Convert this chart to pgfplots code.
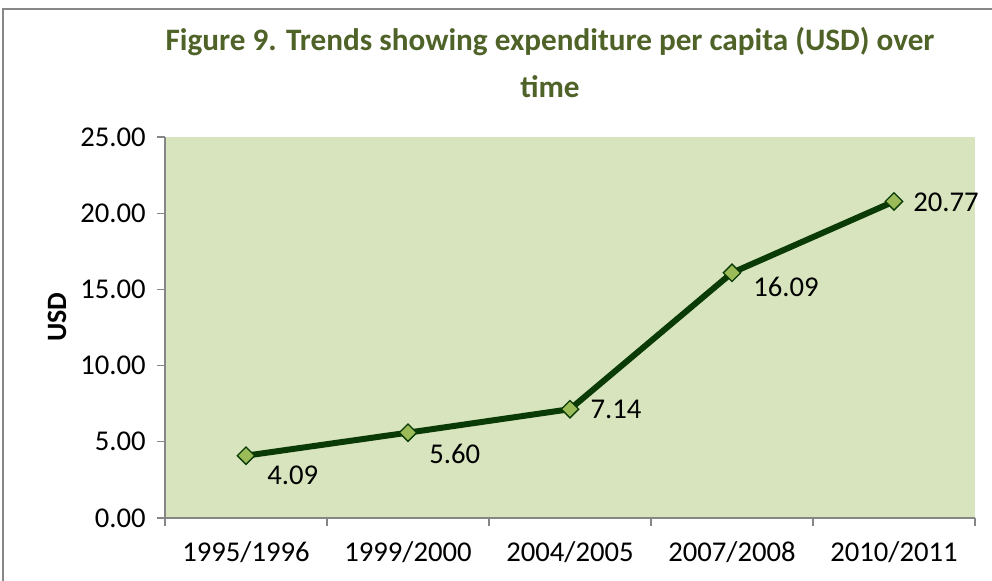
\documentclass[border=0pt]{standalone}
\usepackage{fontspec}
\setmainfont{Carlito}
\usepackage{pgfplots}
\pgfplotsset{compat=1.18}
\usepackage{pgfplotstable}
\definecolor{bgc}{HTML}{D7E4BD}
\definecolor{linec}{HTML}{0A3A06}
\definecolor{markc}{HTML}{9BBB59}
\definecolor{titlec}{HTML}{4F6228}
\definecolor{axisc}{HTML}{868686}
\definecolor{borderc}{HTML}{878787}
\pgfplotstableread{
x y dx dy
0 4.09 35 -14.5
1 5.60 35 -16
2 7.14 34.5 0
3 16.09 40.5 -10.5
4 20.77 39 -0.5
}\datatable
\begin{document}
\begin{tikzpicture}
\useasboundingbox (0,0) rectangle (744pt,435.75pt);
\draw[borderc, line width=1.2pt] (2.25pt,-5pt) -- (2.25pt,429pt) -- (760pt,429pt);
\node[font=\fontsize{23.4}{28}\selectfont\bfseries, text=titlec] at (412.5pt,404.25pt) {Figure 9. Trends showing expenditure per capita (USD) over};
\node[font=\fontsize{23.4}{28}\selectfont\bfseries, text=titlec] at (412.5pt,370.5pt) {time};
\node[font=\fontsize{21}{24}\selectfont\bfseries, rotate=90] at (42.75pt,198pt) {USD};
\begin{axis}[
  at={(123.75pt,47.25pt)}, anchor=south west,
  scale only axis, width=607.5pt, height=285.75pt,
  xmin=-0.5, xmax=4.5, ymin=0, ymax=25,
  axis background/.style={fill=bgc},
  axis x line*=bottom, axis y line*=left,
  axis line style={axisc, line width=1.2pt},
  every tick/.style={axisc, line width=1pt},
  tick align=outside,
  xtick={0,1,2,3,4},
  xticklabels={1995/1996,1999/2000,2004/2005,2007/2008,2010/2011},
  major x tick style={draw=none},
  minor xtick={-0.5,0.5,1.5,2.5,3.5,4.5},
  minor tick length=6pt,
  major tick length=6pt,
  ytick={0,5,10,15,20,25},
  y tick label style={/pgf/number format/fixed, /pgf/number format/zerofill, /pgf/number format/precision=2},
  /pgf/number format/assume math mode=true,
  ticklabel style={font=\fontsize{21.5}{25}\selectfont},
  xticklabel style={yshift=-8pt},
  yticklabel style={xshift=-5pt},
  clip=false,
]
\addplot[linec, line width=4.5pt, mark=square*, mark size=4.6pt,
  mark options={fill=markc, draw=linec, line width=1pt, rotate=45},
  visualization depends on={\thisrow{dx} \as \dx},
  visualization depends on={\thisrow{dy} \as \dy},
  nodes near coords={\pgfmathprintnumber[fixed,zerofill,precision=2,assume math mode=true]{\pgfplotspointmeta}},
  point meta=explicit,
  every node near coord/.append style={anchor=center, xshift=\dx pt, yshift=\dy pt, text=black, font=\fontsize{21.5}{25}\selectfont}
] table[x=x, y=y, meta=y] {\datatable};
\end{axis}
\end{tikzpicture}
\end{document}
